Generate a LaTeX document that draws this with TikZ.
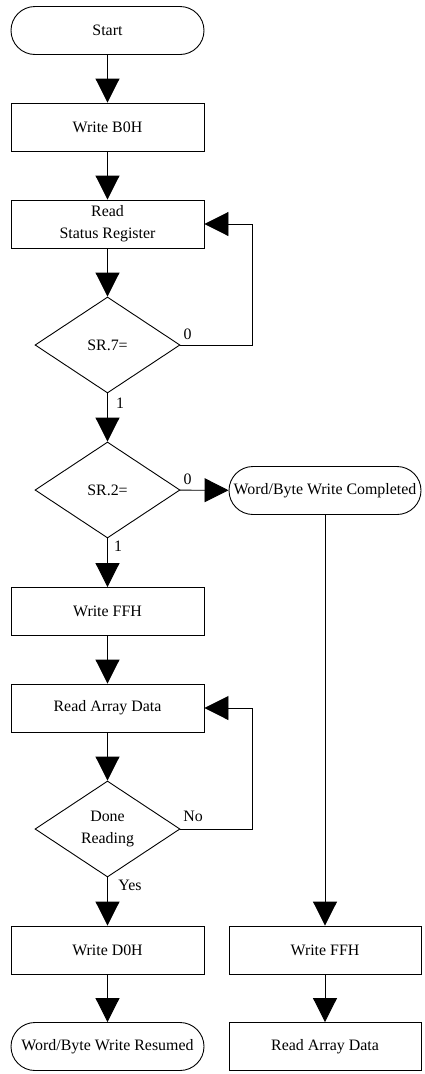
\documentclass[tikz,border=0pt]{standalone}
\usepackage{fontspec}
\setmainfont{Liberation Serif}
\usetikzlibrary{shapes.geometric,arrows.meta}
\begin{document}
\begin{tikzpicture}[x=1pt,y=-1pt,
  font=\fontsize{15.9}{22}\selectfont,
  every node/.style={inner sep=0pt},
  box/.style={draw, line width=0.9pt, rectangle, minimum width=193pt, minimum height=48pt, align=center},
  term/.style={box, rounded corners=24pt},
  dec/.style={draw, line width=0.9pt, diamond, minimum width=145pt, minimum height=96pt, aspect=1.5, align=center},
  flow/.style={line width=0.9pt, -{Triangle[length=24pt,width=24pt]}},
  lab/.style={font=\fontsize{15.9}{18}\selectfont}]
\useasboundingbox (0,0) rectangle (425,1074);
\node[term] (start) at (107.5,30.5) {Start};
\node[box] (wb0) at (107.5,127) {Write B0H};
\node[box] (rsr) at (107.5,224) {Read\\Status Register};
\node[dec] (sr7) at (107.5,345) {SR.7=};
\node[dec] (sr2) at (107.5,490) {SR.2=};
\node[term, minimum width=192pt] (wbc) at (325,490.5) {Word/Byte Write Completed};
\node[box] (wff) at (107.5,611.5) {Write FFH};
\node[box] (rad) at (107.5,708) {Read Array Data};
\node[dec] (dr) at (107.5,829) {Done\\Reading};
\node[box] (wd0) at (107.5,950) {Write D0H};
\node[box, minimum width=192pt] (wff2) at (325,950) {Write FFH};
\node[term] (wbr) at (107.5,1046.5) {Word/Byte Write Resumed};
\node[box, minimum width=192pt] (rad2) at (325,1046.5) {Read Array Data};
\coordinate (c1) at (252,345);
\coordinate (c2) at (252,829);
\draw[flow] (start) -- (wb0);
\draw[flow] (wb0) -- (rsr);
\draw[flow] (rsr) -- (sr7);
\draw[flow] (sr7.east) -- (c1) |- (rsr.east);
\draw[flow] (sr7) -- (sr2);
\draw[flow] (sr2) -- (wbc);
\draw[flow] (sr2) -- (wff);
\draw[flow] (wff) -- (rad);
\draw[flow] (rad) -- (dr);
\draw[flow] (dr.east) -- (c2) |- (rad.east);
\draw[flow] (dr) -- (wd0);
\draw[flow] (wd0) -- (wbr);
\draw[flow] (wbc) -- (wff2);
\draw[flow] (wff2) -- (rad2);
\node[lab] (l0a) at (187.5,334) {0};
\node[lab] (l1a) at (120,403) {1};
\node[lab] (l0b) at (187.5,479) {0};
\node[lab] (l1b) at (118,546) {1};
\node[lab] (lno) at (193,816) {No};
\node[lab] (lyes) at (130,885) {Yes};
\end{tikzpicture}
\end{document}
